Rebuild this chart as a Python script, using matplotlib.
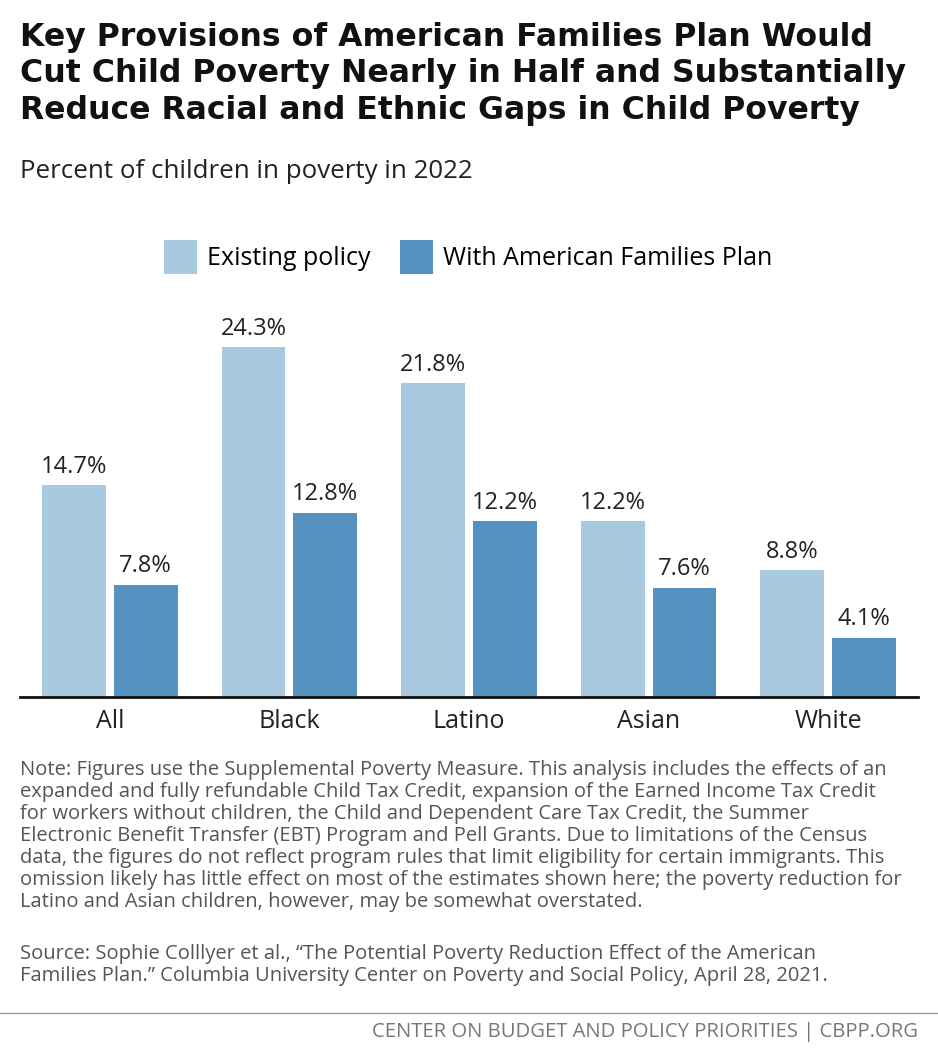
import matplotlib
matplotlib.use("Agg")
import matplotlib.pyplot as plt
import numpy as np

categories = ["All", "Black", "Latino", "Asian", "White"]
existing = [14.7, 24.3, 21.8, 12.2, 8.8]
afp = [7.8, 12.8, 12.2, 7.6, 4.1]
series_names = ["Existing policy", "With American Families Plan"]

plt.rcParams['font.family'] = ['Roboto', 'DejaVu Sans']
W, H = 938, 1057
fig = plt.figure(figsize=(W/100, H/100), dpi=100)
c1, c2 = "#a9c9e1", "#5592c0"

fig.text(20/W, 1-22/H, "Key Provisions of American Families Plan Would\nCut Child Poverty Nearly in Half and Substantially\nReduce Racial and Ethnic Gaps in Child Poverty",
         fontsize=22.7, fontweight='bold', va='top', ha='left', linespacing=1.22, color='#111111', family='DejaVu Sans')
fig.text(20/W, 1-172/H, "Percent of children in poverty in 2022", fontsize=18.6, va='center', color='#222222', family='Open Sans')

ax = fig.add_axes([20/W, 1-697/H, 898/W, 397/H])
x = np.arange(len(categories))
w = 0.356
b1 = ax.bar(x-0.2, existing, w, color=c1, label=series_names[0])
b2 = ax.bar(x+0.2, afp, w, color=c2, label=series_names[1])
for bars, vals in ((b1, existing), (b2, afp)):
    for r, v in zip(bars, vals):
        ax.text(r.get_x()+r.get_width()/2, v+0.45, f"{v}%", ha='center', va='bottom', fontsize=17, color='#222222', family='Open Sans')
ax.set_xlim(-0.5, 4.5)
ax.set_ylim(0, 397/14.4)
ax.set_yticks([])
ax.set_xticks(x)
ax.set_xticklabels(categories, fontsize=18, color='#222222', family='Open Sans')
ax.tick_params(axis='x', length=0, pad=9)
for s in ['top', 'right', 'left']:
    ax.spines[s].set_visible(False)
ax.spines['bottom'].set_linewidth(2)
ax.spines['bottom'].set_color('#111111')
ax.patch.set_alpha(0)
fig.legend(handles=[b1, b2], loc='center', bbox_to_anchor=(468/W, 1-257/H), ncol=2, frameon=False,
           prop={'family': 'Open Sans', 'size': 18}, handlelength=1.3, handleheight=1.7, handletextpad=0.4, columnspacing=1.2)

note = ("Note: Figures use the Supplemental Poverty Measure. This analysis includes the effects of an\n"
        "expanded and fully refundable Child Tax Credit, expansion of the Earned Income Tax Credit\n"
        "for workers without children, the Child and Dependent Care Tax Credit, the Summer\n"
        "Electronic Benefit Transfer (EBT) Program and Pell Grants. Due to limitations of the Census\n"
        "data, the figures do not reflect program rules that limit eligibility for certain immigrants. This\n"
        "omission likely has little effect on most of the estimates shown here; the poverty reduction for\n"
        "Latino and Asian children, however, may be somewhat overstated.")
fig.text(20/W, 1-760/H, note, fontsize=14.5, va='top', ha='left', color='#555555', linespacing=1.13, family='Open Sans')
src = ("Source: Sophie Colllyer et al., \u201cThe Potential Poverty Reduction Effect of the American\n"
       "Families Plan.\u201d Columbia University Center on Poverty and Social Policy, April 28, 2021.")
fig.text(20/W, 1-944/H, src, fontsize=14.5, va='top', ha='left', color='#555555', linespacing=1.13, family='Open Sans')
fig.add_artist(plt.Line2D([0, 1], [1-1013/H]*2, color='#999999', lw=1))
fig.text(918/W, 1-1032/H, "CENTER ON BUDGET AND POLICY PRIORITIES | CBPP.ORG", fontsize=14.6, ha='right', va='center', color='#777777', family='Open Sans')
fig.savefig("out.png", dpi=100)
